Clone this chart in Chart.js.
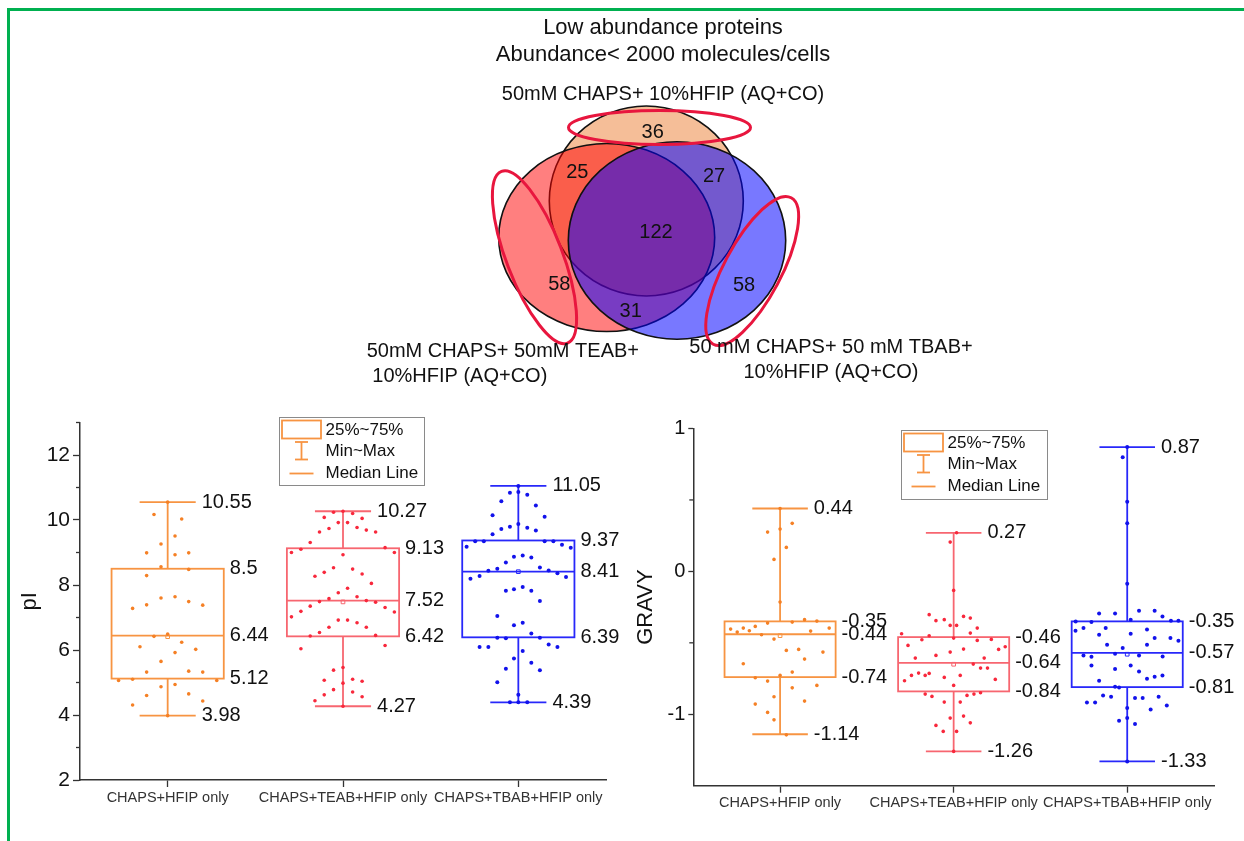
<!DOCTYPE html>
<html>
<head>
<meta charset="utf-8">
<script src="https://cdn.jsdelivr.net/npm/chart.js@4.4.1/dist/chart.umd.min.js"></script>
<style>
html,body{margin:0;padding:0;background:#fff;}
#page{position:relative;width:1244px;height:841px;overflow:hidden;background:#fff;}
.cv{position:absolute;}
#bTop{position:absolute;left:7px;top:8px;width:1237px;height:3px;background:#00b050;}
#bLeft{position:absolute;left:7px;top:8px;width:3px;height:833px;background:#00b050;}
</style>
</head>
<body>
<div id="page">
  <div class="cv" style="left:82px;top:0;"><canvas id="venn" width="1162" height="400"></canvas></div>
  <div class="cv" style="left:0;top:400px;"><canvas id="pi" width="620" height="441"></canvas></div>
  <div class="cv" style="left:620px;top:400px;"><canvas id="gravy" width="624" height="441"></canvas></div>
  <div id="bTop"></div><div id="bLeft"></div>
</div>
<script>
// ================= DATA =================
// Venn diagram
const vennTitle = ['Low abundance proteins', 'Abundance< 2000 molecules/cells'];
const vennSetNames = [
  '50mM CHAPS+ 10%HFIP (AQ+CO)',
  '50mM CHAPS+ 50mM TEAB+\n 10%HFIP (AQ+CO)',
  '50 mM CHAPS+ 50 mM TBAB+\n10%HFIP (AQ+CO)'
];
const vennRegions = ['HFIP only', 'HFIP & TEAB', 'HFIP & TBAB', 'all three', 'TEAB only', 'TBAB only', 'TEAB & TBAB'];
const vennCounts = [36, 25, 27, 122, 58, 58, 31];

// Box plots
const categories = ['CHAPS+HFIP only', 'CHAPS+TEAB+HFIP only', 'CHAPS+TBAB+HFIP only'];

const pI_ticks = [2, 4, 6, 8, 10, 12];
const pI_min    = [3.98, 4.27, 4.39];
const pI_q1     = [5.12, 6.42, 6.39];
const pI_median = [6.44, 7.52, 8.41];
const pI_q3     = [8.5, 9.13, 9.37];
const pI_max    = [10.55, 10.27, 11.05];
const pI_mean   = [6.41, 7.48, 8.41];

const gravy_ticks = [-1, 0, 1];
const gravy_min    = [-1.14, -1.26, -1.33];
const gravy_q1     = [-0.74, -0.84, -0.81];
const gravy_median = [-0.44, -0.64, -0.57];
const gravy_q3     = [-0.35, -0.46, -0.35];
const gravy_max    = [0.44, 0.27, 0.87];
const gravy_mean   = [-0.45, -0.65, -0.58];

// individual proteins: [value, horizontal jitter in category units]
const pI_hfip = [[10.55,0],[10.03,0.08],[10.17,-0.078],[9.51,0.042],[9.26,-0.038],[8.99,-0.12],[8.93,0.042],[8.99,0.12],
  [8.56,-0.038],[8.48,0.12],[8.29,-0.12],[7.6,-0.038],[7.64,0.042],[7.39,-0.12],[7.28,-0.2],[7.49,0.12],[7.38,0.2],
  [6.42,-0.078],[6.49,0],[6.10,-0.158],[6.24,0.08],[6.02,0.16],[5.92,0.042],[5.65,-0.038],[5.32,-0.12],[5.35,0.12],
  [5.32,0.2],[5.06,-0.28],[5.10,-0.2],[5.06,0.28],[4.87,-0.038],[4.94,0.042],[4.60,-0.12],[4.65,0.12],[4.31,-0.2],
  [4.43,0.2],[3.98,0]];
const pI_teab = [[10.27,0],[10.08,-0.107],[10.24,-0.054],[10.2,0.055],[10.05,0.109],[9.92,-0.027],[9.92,0.026],
  [9.74,-0.08],[9.77,0.08],[9.63,-0.134],[9.69,0.133],[9.63,0.186],[9.31,-0.187],[9.0,-0.294],[9.1,-0.24],[9.15,0.24],
  [9.0,0.293],[8.93,0],[8.27,-0.16],[8.39,-0.107],[8.53,-0.054],[8.49,0.055],[8.34,0.109],[8.05,0.162],[7.9,0.026],
  [7.76,-0.027],[7.58,-0.08],[7.49,-0.134],[7.64,0.08],[7.52,0.133],[7.47,0.186],[7.35,-0.187],[7.19,-0.24],[7.02,-0.294],
  [7.31,0.24],[7.17,0.293],[6.92,-0.027],[6.92,0.026],[6.70,-0.08],[6.84,0.08],[6.70,0.133],[6.54,-0.134],[6.43,-0.187],
  [6.45,0.186],[6.04,-0.24],[6.14,0.24],[5.46,0],[5.38,-0.054],[5.07,-0.107],[5.10,0.055],[5.04,0.109],[4.98,0],
  [4.78,-0.054],[4.62,-0.107],[4.71,0.055],[4.56,0.109],[4.44,-0.16],[4.27,0]];
const pI_tbab = [[11.05,0],[10.84,-0.048],[10.86,0],[10.78,0.051],[10.58,-0.097],[10.45,0.1],[10.15,-0.147],[10.1,0.15],
  [9.72,-0.097],[9.79,-0.048],[9.88,0],[9.76,0.051],[9.68,0.1],[9.56,-0.147],[9.18,-0.295],[9.35,-0.246],[9.35,-0.197],
  [9.35,0.15],[9.35,0.2],[9.24,0.249],[9.15,0.299],[8.69,-0.071],[8.87,-0.025],[8.91,0.025],[8.85,0.074],[8.50,-0.12],
  [8.44,-0.171],[8.54,0.123],[8.45,0.173],[8.36,0.223],[8.19,-0.273],[8.28,-0.221],[8.25,0.272],[7.82,-0.071],[7.87,-0.025],
  [7.94,0.025],[7.82,0.074],[7.51,0.123],[7.05,-0.12],[6.76,-0.025],[6.84,0.025],[6.36,-0.071],[6.38,-0.12],[6.51,0.074],
  [6.38,0.123],[6.09,-0.221],[6.09,-0.171],[6.17,0.173],[6.09,0.223],[5.97,0.025],[5.74,-0.025],[5.42,-0.071],[5.61,0.074],
  [5.38,0.123],[5.01,-0.12],[4.62,0],[4.39,-0.048],[4.39,0.051],[4.39,0]];

const gravy_hfip = [[0.44,0],[0.275,-0.072],[0.296,0],[0.336,0.07],[0.168,0.036],[0.084,-0.035],[-0.215,0],
  [-0.362,-0.072],[-0.355,0.07],[-0.338,0.141],[-0.348,0.212],[-0.404,-0.285],[-0.425,-0.247],[-0.397,-0.212],
  [-0.415,-0.177],[-0.385,-0.143],[-0.443,-0.107],[-0.474,-0.035],[-0.418,0.176],[-0.397,0.283],[-0.553,0.036],
  [-0.546,0.107],[-0.565,0.247],[-0.614,0.141],[-0.646,-0.212],[-0.744,-0.143],[-0.768,-0.072],[-0.728,0],
  [-0.705,0.07],[-0.798,0.212],[-0.815,0.07],[-0.877,-0.035],[-0.929,-0.143],[-0.908,0.141],[-0.987,-0.072],
  [-1.039,-0.035],[-1.144,0.036]];
const gravy_teab = [[0.27,0.017],[0.205,-0.02],[-0.133,0],[-0.303,-0.141],[-0.345,-0.102],[-0.436,-0.3],[-0.478,-0.183],
  [-0.45,-0.141],[-0.518,-0.263],[-0.607,-0.221],[-0.588,-0.102],[-0.714,-0.141],[-0.728,-0.243],[-0.712,-0.202],
  [-0.728,-0.164],[-0.765,-0.283],[-0.859,-0.164],[-0.875,-0.125],[-1.078,-0.102],[-0.338,-0.054],[-0.315,0.057],
  [-0.327,0.096],[-0.378,-0.02],[-0.378,0.017],[-0.432,0.096],[-0.397,0.136],[-0.467,0],[-0.483,0.136],[-0.476,0.217],
  [-0.527,0.297],[-0.546,0.259],[-0.544,0.057],[-0.565,-0.02],[-0.607,0.176],[-0.649,0.113],[-0.677,0.155],
  [-0.677,0.195],[-0.742,-0.054],[-0.728,0.038],[-0.756,0.24],[-0.798,0],[-0.868,0.077],[-0.859,0.117],[-0.849,0.155],
  [-0.915,-0.054],[-0.915,0.038],[-1.027,-0.02],[-1.013,0.057],[-1.06,0.096],[-1.12,-0.06],[-1.12,0.017],[-1.26,0]];
const gravy_tbab = [[0.87,0],[0.798,-0.026],[0.488,0],[0.336,0],[-0.086,0],[-0.294,-0.162],[-0.294,-0.07],[-0.275,0.068],
  [-0.275,0.158],[-0.315,0.203],[-0.35,-0.297],[-0.355,-0.206],[-0.338,0.02],[-0.345,0.252],[-0.345,0.295],
  [-0.415,-0.298],[-0.397,-0.252],[-0.397,-0.124],[-0.406,0.114],[-0.443,-0.162],[-0.436,0.02],[-0.467,0.158],
  [-0.467,0.249],[-0.485,0.295],[-0.513,-0.116],[-0.537,-0.026],[-0.513,0.114],[-0.588,-0.252],[-0.597,-0.206],
  [-0.576,-0.07],[-0.588,0.068],[-0.595,0.204],[-0.658,-0.206],[-0.658,0.02],[-0.684,-0.07],[-0.70,0.068],
  [-0.765,-0.162],[-0.751,0.114],[-0.737,0.158],[-0.728,0.203],[-0.807,-0.07],[-0.812,-0.047],[-0.868,-0.139],
  [-0.877,-0.093],[-0.887,0.045],[-0.887,0.089],[-0.877,0.181],[-0.917,-0.232],[-0.917,-0.185],[-0.938,0.228],
  [-0.966,0.135],[-0.957,0],[-1.027,0],[-1.046,-0.047],[-1.069,0.045],[-1.33,0]];

const legendLabels = ['25%~75%', 'Min~Max', 'Median Line'];

// ================= STYLE / LAYOUT =================
const FONT = '"Liberation Sans", Arial, Helvetica, sans-serif';
Chart.defaults.font.family = FONT;
const LINE_COL = ['rgb(247,148,66)', 'rgb(247,102,112)', 'rgb(40,40,250)'];
const DOT_COL  = ['rgb(245,128,37)', 'rgb(248,40,60)', 'rgb(18,18,235)'];
const DOT_R    = [1.8, 1.8, 2.0];
const BOX_HALF = 0.32, CAP_HALF = 0.16, LABEL_GAP = 6;

// Venn geometry (units of 100 px, origin at centre of the triple overlap)
const VENN_SHAPES = [
  {cx: -0.097, cy: 0.31,  rx: 0.97,  ry: 0.95,  fill: 'rgba(236,125,49,0.5)'},
  {cx: -0.493, cy: -0.055, rx: 1.08, ry: 0.94,  fill: 'rgba(255,0,0,0.5)'},
  {cx: 0.21,  cy: -0.085, rx: 1.087, ry: 0.988, fill: 'rgba(0,0,255,0.53)'}
];
const VENN_HIGHLIGHTS = [
  {cx: 0.035, cy: 1.045, rx: 0.91, ry: 0.17, rot: 0},
  {cx: -1.215, cy: -0.252, rx: 0.92, ry: 0.28, rot: 69},
  {cx: 0.962, cy: -0.39, rx: 0.83, ry: 0.285, rot: -62}
];
const VENN_LABEL_POS = [[-0.033,0.993],[-0.787,0.597],[0.58,0.553],[0,0],[-0.967,-0.523],[0.88,-0.537],[-0.253,-0.797]];
const VENN_SET_LABEL_POS = [null, {x: -2.893, y: -1.197, align: 'left'}, {x: 1.75, y: -1.157, align: 'center'}];

function line(ctx, x1, y1, x2, y2) { ctx.beginPath(); ctx.moveTo(x1, y1); ctx.lineTo(x2, y2); ctx.stroke(); }

// ================= VENN =================
const vennPlugin = {
  id: 'vennShapes',
  beforeDatasetsDraw(chart) {
    const {ctx, scales: {x, y}} = chart;
    const k = x.getPixelForValue(1) - x.getPixelForValue(0);
    ctx.save();
    VENN_SHAPES.forEach(s => {
      ctx.beginPath();
      ctx.ellipse(x.getPixelForValue(s.cx), y.getPixelForValue(s.cy), s.rx * k, s.ry * k, 0, 0, Math.PI * 2);
      ctx.fillStyle = s.fill; ctx.fill();
      ctx.lineWidth = 1.6; ctx.strokeStyle = '#111'; ctx.stroke();
    });
    VENN_HIGHLIGHTS.forEach(h => {
      ctx.beginPath();
      ctx.ellipse(x.getPixelForValue(h.cx), y.getPixelForValue(h.cy), h.rx * k, h.ry * k, h.rot * Math.PI / 180, 0, Math.PI * 2);
      ctx.lineWidth = 3; ctx.strokeStyle = 'rgb(232,22,62)'; ctx.stroke();
    });
    ctx.restore();
  },
  afterDatasetsDraw(chart) {
    const {ctx, scales: {x, y}} = chart;
    const meta = chart.getDatasetMeta(0);
    ctx.save();
    ctx.fillStyle = '#111';
    ctx.font = '20px ' + FONT;
    ctx.textAlign = 'center'; ctx.textBaseline = 'middle';
    meta.data.forEach((pt, i) => ctx.fillText(String(vennCounts[i]), pt.x, pt.y));
    VENN_SET_LABEL_POS.forEach((p, i) => {
      if (!p) return;
      const lines = vennSetNames[i].split('\n');
      ctx.textAlign = p.align;
      lines.forEach((t, j) => ctx.fillText(t, x.getPixelForValue(p.x), y.getPixelForValue(p.y) + j * 25));
    });
    ctx.restore();
  }
};

new Chart(document.getElementById('venn'), {
  type: 'scatter',
  data: { datasets: [{
    label: 'regions',
    data: vennCounts.map((c, i) => ({x: VENN_LABEL_POS[i][0], y: VENN_LABEL_POS[i][1], region: vennRegions[i]})),
    pointRadius: 0
  }]},
  options: {
    responsive: false, animation: false, devicePixelRatio: 1, events: [],
    layout: {padding: 0},
    scales: {
      x: {type: 'linear', display: false, min: -5.74, max: 5.88},
      y: {type: 'linear', display: false, min: -1.68, max: 1.258}
    },
    plugins: {
      legend: {display: false}, tooltip: {enabled: false},
      title: {display: true, text: vennTitle, color: '#111',
        font: {size: 22, weight: 'normal', family: FONT, lineHeight: 1.2}, padding: {top: 15, bottom: 0}},
      subtitle: {display: true, text: vennSetNames[0], color: '#111',
        font: {size: 20, weight: 'normal', family: FONT, lineHeight: 1.2}, padding: {top: 14.4, bottom: 0}}
    }
  },
  plugins: [vennPlugin]
});

// ================= BOX PLOTS =================
function makeBoxChart(id, cfg) {
  const s = cfg.stats;
  const datasets = cfg.groups.map((pts, i) => ({
    label: categories[i],
    data: pts.map(([v, j]) => ({x: i + 1 + j, y: v})),
    pointRadius: DOT_R[i], pointBackgroundColor: DOT_COL[i], pointBorderWidth: 0, showLine: false
  }));
  datasets.push({
    label: 'mean',
    data: s.mean.map((m, i) => ({x: i + 1, y: m})),
    pointStyle: 'rect', pointRadius: 2.6, pointBackgroundColor: 'rgba(0,0,0,0)',
    pointBorderColor: LINE_COL, pointBorderWidth: 1, showLine: false
  });

  const plugin = {
    id: 'box_' + id,
    beforeDatasetsDraw(chart) {
      const {ctx, scales: {x, y}} = chart;
      ctx.save();
      ctx.lineWidth = 1.8;
      categories.forEach((c, i) => {
        const cx = i + 1;
        ctx.strokeStyle = LINE_COL[i];
        const xl = x.getPixelForValue(cx - BOX_HALF), xr = x.getPixelForValue(cx + BOX_HALF);
        const xc = x.getPixelForValue(cx);
        const cl = x.getPixelForValue(cx - CAP_HALF), cr = x.getPixelForValue(cx + CAP_HALF);
        const yq1 = y.getPixelForValue(s.q1[i]), yq3 = y.getPixelForValue(s.q3[i]);
        const ymed = y.getPixelForValue(s.median[i]);
        const ymin = y.getPixelForValue(s.min[i]), ymax = y.getPixelForValue(s.max[i]);
        ctx.strokeRect(xl, yq3, xr - xl, yq1 - yq3);
        line(ctx, xl, ymed, xr, ymed);
        line(ctx, xc, yq3, xc, ymax);
        line(ctx, xc, yq1, xc, ymin);
        line(ctx, cl, ymax, cr, ymax);
        line(ctx, cl, ymin, cr, ymin);
      });
      ctx.restore();
    },
    afterDatasetsDraw(chart) {
      const {ctx, scales: {x, y}} = chart;
      ctx.save();
      ctx.fillStyle = '#111';
      ctx.font = '20px ' + FONT;
      ctx.textAlign = 'left'; ctx.textBaseline = 'middle';
      categories.forEach((c, i) => {
        const cx = i + 1;
        const xr = x.getPixelForValue(cx + BOX_HALF) + LABEL_GAP;
        const cr = x.getPixelForValue(cx + CAP_HALF) + LABEL_GAP;
        ctx.fillText(String(s.max[i]), cr, y.getPixelForValue(s.max[i]));
        ctx.fillText(String(s.min[i]), cr, y.getPixelForValue(s.min[i]));
        ctx.fillText(String(s.q3[i]), xr, y.getPixelForValue(s.q3[i]));
        ctx.fillText(String(s.median[i]), xr, y.getPixelForValue(s.median[i]));
        ctx.fillText(String(s.q1[i]), xr, y.getPixelForValue(s.q1[i]));
      });
      ctx.restore();
    },
    afterDraw(chart) {
      const {ctx, scales: {x, y}} = chart;
      ctx.save();
      // minor ticks
      ctx.strokeStyle = '#333'; ctx.lineWidth = 1.3;
      const ax = x.left;
      cfg.minor.forEach(v => { const py = y.getPixelForValue(v); line(ctx, ax - cfg.minorLen, py, ax, py); });
      // legend
      const L = Math.round(x.left + cfg.legend.dx) + 0.5, T = Math.round(y.top + cfg.legend.dy) + 0.5;
      const W = cfg.legend.w, H = cfg.legend.h;
      ctx.strokeStyle = '#8a8a8a'; ctx.lineWidth = 1;
      ctx.strokeRect(L, T, W, H);
      ctx.strokeStyle = LINE_COL[0]; ctx.lineWidth = 1.8;
      ctx.strokeRect(L + 2.5, T + 3, 39, 18);
      line(ctx, L + 22, T + 24.5, L + 22, T + 42);
      line(ctx, L + 15.5, T + 24.5, L + 28.5, T + 24.5);
      line(ctx, L + 15.5, T + 42, L + 28.5, T + 42);
      line(ctx, L + 10, T + 56, L + 34, T + 56);
      ctx.fillStyle = '#111'; ctx.font = '17px ' + FONT;
      ctx.textAlign = 'left'; ctx.textBaseline = 'middle';
      [12.5, 34, 56].forEach((dy, k) => ctx.fillText(legendLabels[k], L + 46, T + dy));
      ctx.restore();
    }
  };

  return new Chart(document.getElementById(id), {
    type: 'scatter',
    data: {datasets},
    options: {
      responsive: false, animation: false, devicePixelRatio: 1, events: [],
      layout: {padding: cfg.padding},
      scales: {
        x: {
          type: 'linear', min: 0.5, max: 3.5,
          afterBuildTicks: sc => { sc.ticks = categories.map((c, i) => ({value: i + 1})); },
          afterFit: sc => { sc.height = 40; },
          ticks: {autoSkip: false, maxRotation: 0, color: '#333', padding: cfg.xPad,
            font: {size: 14.5, family: FONT}, callback: v => categories[Math.round(v) - 1] || ''},
          grid: {display: true, drawOnChartArea: false, drawTicks: true, tickLength: 7, tickColor: '#333', tickWidth: 1.3},
          border: {display: true, color: '#333', width: 1.5}
        },
        y: {
          type: 'linear', min: cfg.yMin, max: cfg.yMax,
          afterBuildTicks: sc => { sc.ticks = cfg.yTicks.map(v => ({value: v})); },
          afterFit: sc => { sc.width = cfg.yWidth; },
          ticks: {color: '#111', padding: 3, font: {size: cfg.tickSize, family: FONT}},
          grid: {display: true, drawOnChartArea: false, drawTicks: true, tickLength: cfg.tickLen, tickColor: '#333', tickWidth: 1.3},
          border: {display: true, color: '#333', width: 1.5},
          title: {display: true, text: cfg.yTitle, color: '#111',
            font: {size: 22, family: FONT, lineHeight: 1.2}, padding: {top: cfg.titlePad, bottom: 0}}
        }
      },
      plugins: {legend: {display: false}, tooltip: {enabled: false}}
    },
    plugins: [plugin]
  });
}

makeBoxChart('pi', {
  stats: {min: pI_min, q1: pI_q1, median: pI_median, q3: pI_q3, max: pI_max, mean: pI_mean},
  groups: [pI_hfip, pI_teab, pI_tbab],
  yMin: 2, yMax: 13, yTicks: pI_ticks, minor: [3, 5, 7, 9, 11, 13], minorLen: 4,
  yTitle: 'pI', yWidth: 80, tickLen: 7, tickSize: 21, titlePad: 16.8, xPad: 2,
  padding: {left: 0, top: 22.5, right: 14, bottom: 21},
  legend: {dx: 199.3, dy: -5.2, w: 145, h: 68}
});

makeBoxChart('gravy', {
  stats: {min: gravy_min, q1: gravy_q1, median: gravy_median, q3: gravy_q3, max: gravy_max, mean: gravy_mean},
  groups: [gravy_hfip, gravy_teab, gravy_tbab],
  yMin: -1.5, yMax: 1, yTicks: gravy_ticks, minor: [-0.5, 0.5], minorLen: 4,
  yTitle: 'GRAVY', yWidth: 73.3, tickLen: 5, tickSize: 20, titlePad: 12.8, xPad: 1.6,
  padding: {left: 0, top: 28.5, right: 30, bottom: 15.3},
  legend: {dx: 207.4, dy: 1.5, w: 146, h: 69}
});
</script>
</body>
</html>
